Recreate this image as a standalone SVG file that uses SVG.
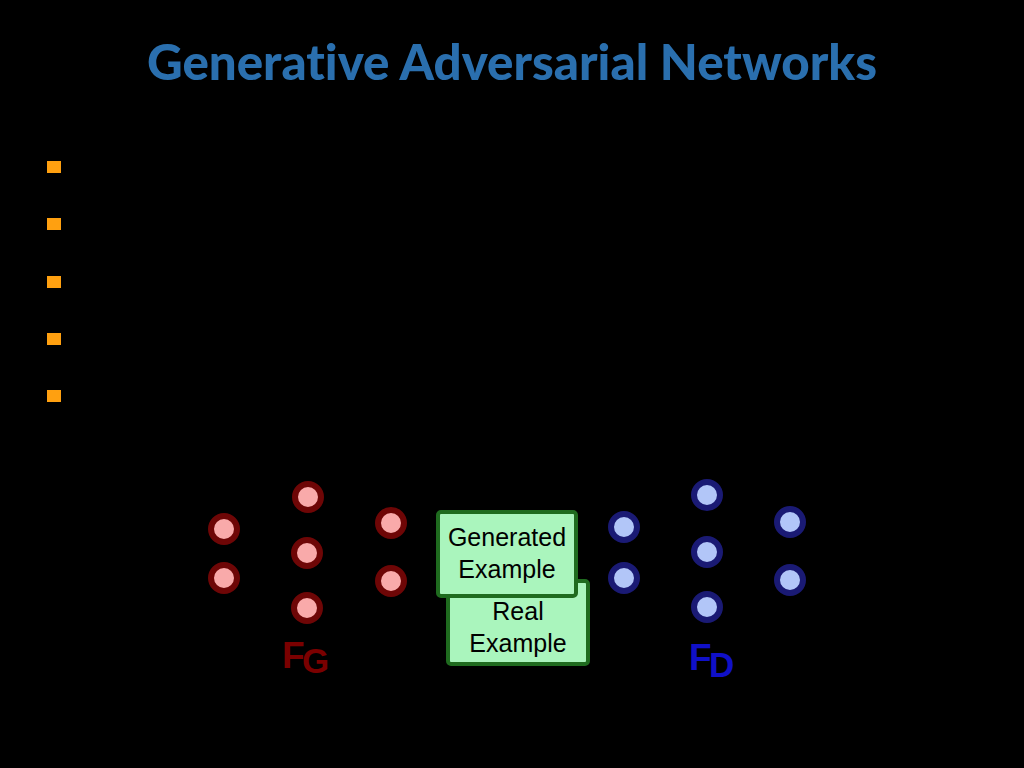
<svg xmlns="http://www.w3.org/2000/svg" width="1024" height="768" viewBox="0 0 1024 768">
<style>
.bg{fill:#000}
.title{font-family:"Lato","Open Sans","Liberation Sans",sans-serif;font-weight:900;font-size:50px;fill:#2a6fae;font-variant-ligatures:none;font-feature-settings:"liga" 0,"clig" 0}
.bullet{fill:#ffa010}
.gn{fill:#f9aaaa;stroke:#6e0606;stroke-width:6}
.dn{fill:#b2c6f8;stroke:#1a1a74;stroke-width:6}
.box{fill:#aaf5bd;stroke:#1f6b1f;stroke-width:4}
.bt{font-family:"Liberation Sans",Arial,sans-serif;font-size:25px;fill:#000;text-anchor:middle}
.lg{font-family:"Liberation Sans",Arial,sans-serif;font-weight:bold;fill:#7a0000}
.ld{font-family:"Liberation Sans",Arial,sans-serif;font-weight:bold;fill:#1010c8}
</style>
<rect class="bg" x="0" y="0" width="1024" height="768"/>
<text class="title" x="147" y="80" textLength="730" lengthAdjust="spacingAndGlyphs">Generative Adversarial Networks</text>
<g id="bullets">
<rect class="bullet" x="47" y="161" width="14" height="12"/>
<rect class="bullet" x="47" y="218" width="14" height="12"/>
<rect class="bullet" x="47" y="276" width="14" height="12"/>
<rect class="bullet" x="47" y="333" width="14" height="12"/>
<rect class="bullet" x="47" y="390" width="14" height="12"/>
</g>
<g id="connectors"></g>
<g id="generator">
<circle id="g1" class="gn" cx="224" cy="529" r="13"/>
<circle id="g2" class="gn" cx="224" cy="578" r="13"/>
<circle id="g3" class="gn" cx="308" cy="497" r="13"/>
<circle id="g4" class="gn" cx="307" cy="553" r="13"/>
<circle id="g5" class="gn" cx="307" cy="608" r="13"/>
<circle id="g6" class="gn" cx="391" cy="523" r="13"/>
<circle id="g7" class="gn" cx="391" cy="581" r="13"/>
<g id="label-fg"><text class="lg" x="282" y="668" font-size="37">F</text><text class="lg" x="302" y="673" font-size="35">G</text></g>
</g>
<g id="discriminator">
<circle id="d1" class="dn" cx="624" cy="527" r="13"/>
<circle id="d2" class="dn" cx="624" cy="578" r="13"/>
<circle id="d3" class="dn" cx="707" cy="495" r="13"/>
<circle id="d4" class="dn" cx="707" cy="552" r="13"/>
<circle id="d5" class="dn" cx="707" cy="607" r="13"/>
<circle id="d6" class="dn" cx="790" cy="522" r="13"/>
<circle id="d7" class="dn" cx="790" cy="580" r="13"/>
<g id="label-fd"><text class="ld" x="689" y="670" font-size="37">F</text><text class="ld" x="709" y="677" font-size="35">D</text></g>
</g>
<g id="real-example">
<rect class="box" x="448" y="581" width="140" height="83" rx="3"/>
<text class="bt" x="518" y="620">Real</text>
<text class="bt" x="518" y="652">Example</text>
</g>
<g id="generated-example">
<rect class="box" x="438" y="512" width="138" height="84" rx="3"/>
<text class="bt" x="507" y="546">Generated</text>
<text class="bt" x="507" y="578">Example</text>
</g>
</svg>
